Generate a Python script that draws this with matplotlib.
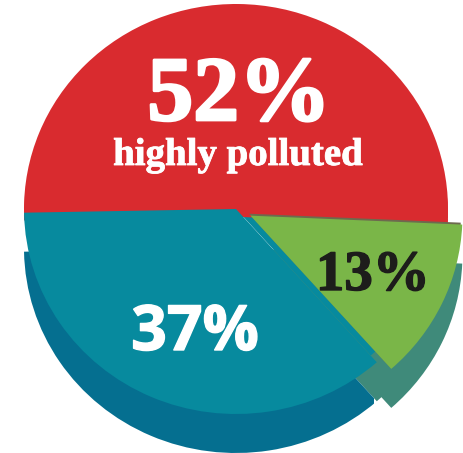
import matplotlib
matplotlib.use('Agg')
import matplotlib.pyplot as plt
import matplotlib.patheffects as pe
from matplotlib.patches import Rectangle

# shares as printed (they add up to 102, the pie normalises them)
shares = [52, 37, 13]
top_colors = ['#d92b2f', '#078a9e', '#7ab648']
wall_colors = ['#d92b2f', '#056f90', '#3f8a7a']
labels = ['52%', '37%', '13%']
caption = 'highly polluted'

W, H = 464, 453
squash = 205 / 212  # the disc is seen slightly from above
fig = plt.figure(figsize=(W / 100, H / 100), dpi=100)
ax = fig.add_axes([0, 0, 1, 1])

cx = 236
cy = (H - 209) / squash
depth = 39 / squash
R = 212
pull = [0, 0, 16]  # how far the green slice is pulled out


def draw_pie(center, colors, zorder, show, explode=(0, 0, 0)):
    wedges, _ = ax.pie(shares, colors=colors, explode=explode, startangle=-2.5,
                       radius=R, center=center, wedgeprops={'linewidth': 0})
    for w, keep in zip(wedges, show):
        w.set_zorder(zorder)
        w.set_visible(keep)
    return wedges


# side wall, the teal part stops short of the green one
draw_pie((cx, cy - depth), wall_colors, 1, [False, False, True])
teal_wall = draw_pie((cx, cy - depth), wall_colors, 1.2, [False, True, False])[1]
draw_pie((cx, cy - depth), wall_colors, 1.5, [False, False, True], pull)

# fill what the pulled slice leaves open: teal to the left, red above it
draw_pie((cx - 6, cy + 7), ['none', 'none', top_colors[1]], 1.8, [False, False, True])
draw_pie((cx, cy - 8), top_colors, 1.9, [True, False, False])

# top face
draw_pie((cx, cy), top_colors, 2, [True, True, False])
# dark seam around the pulled slice
draw_pie((cx - 1.5, cy + 2), ['none', 'none', '#6d6a4e'], 2.5, [False, False, True], pull)
draw_pie((cx, cy), top_colors, 3, [False, False, True], pull)

ax.set_aspect('auto')
ax.set_xlim(0, W)
ax.set_ylim(0, H / squash)
ax.axis('off')

teal_wall.set_clip_on(True)
teal_wall.set_clip_path(Rectangle((0, 0), 374, H / squash, transform=ax.transData))


def label(x, y, s, size, color, family, stroke=0):
    t = fig.text(x / W, 1 - y / H, s, fontsize=size, color=color, family=family,
                 weight='bold', ha='center', va='baseline', zorder=5)
    if stroke:
        t.set_path_effects([pe.withStroke(linewidth=stroke, foreground=color)])


label(239, 120, labels[0], 66, 'white', 'Liberation Serif', 2)
label(238, 165, caption, 28, 'white', 'Liberation Serif', 0.6)
label(195, 350, labels[1], 45, 'white', 'Open Sans', 1)
label(373, 290, labels[2], 41, '#1d1d1b', 'Liberation Serif', 1)

fig.savefig('out.png', dpi=100)
